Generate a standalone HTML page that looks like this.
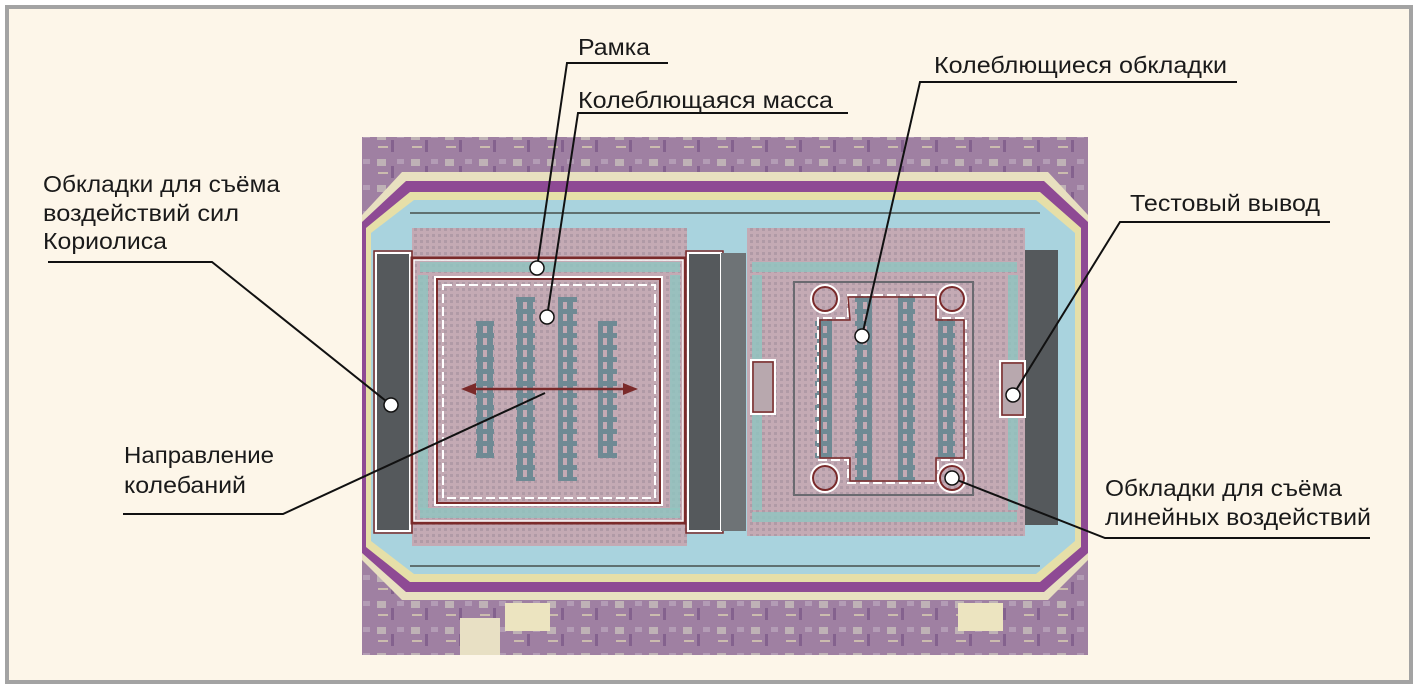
<!DOCTYPE html>
<html><head><meta charset="utf-8"><style>
html,body{margin:0;padding:0;background:#fff}
svg{display:block}
text{font-family:"Liberation Sans",sans-serif;font-size:23px;fill:#1a1a1a}
</style></head><body>
<svg width="1418" height="689" viewBox="0 0 1418 689" xmlns="http://www.w3.org/2000/svg">
<defs>
<pattern id="grid" width="6" height="6" patternUnits="userSpaceOnUse">
<rect width="6" height="6" fill="#c4aab4"/><rect x="0" y="0" width="3" height="3" fill="#b09aa6"/>
</pattern>
<pattern id="circ" width="34" height="26" patternUnits="userSpaceOnUse">
<rect width="34" height="26" fill="#9f80a2"/><rect x="3" y="3" width="9" height="7" fill="#bfb2b6"/><rect x="17" y="10" width="3" height="12" fill="#84628e"/><rect x="23" y="3" width="7" height="5" fill="#b39cb5"/><rect x="4" y="16" width="10" height="2" fill="#cbbcae"/>
</pattern>
<pattern id="comb" width="10" height="12" patternUnits="userSpaceOnUse">
<rect width="10" height="12" fill="#6f8a94"/><rect x="3" y="2" width="4" height="7" fill="#c4aab4"/>
</pattern>
</defs>
<rect x="0" y="0" width="1418" height="689" fill="#fff"/>
<rect x="7" y="7" width="1404" height="675" fill="#fdf6e9" stroke="#a3a3a3" stroke-width="4"/>
<g>
<rect x="362" y="137" width="726" height="518" fill="url(#circ)"/>
<polygon points="362,215 402,172 1048,172 1088,215 1088,560 1048,600 402,600 362,560" fill="#e8e0c0"/>
<polygon points="362,222 406,181 1044,181 1088,222 1088,553 1044,592 406,592 362,553" fill="#8e4a94"/>
<polygon points="366,228 410,192 1040,192 1081,228 1081,547 1040,582 410,582 366,547" fill="#e6dfa8"/>
<polygon points="371,233 414,200 1036,200 1075,233 1075,541 1036,574 414,574 371,541" fill="#a9d3de"/>
<line x1="410" y1="213" x2="1040" y2="213" stroke="#5f7070" stroke-width="2"/>
<line x1="410" y1="566" x2="1040" y2="566" stroke="#5f7070" stroke-width="2"/>
<rect x="412" y="228" width="275" height="318" fill="url(#grid)"/>
<rect x="747" y="228" width="278" height="308" fill="url(#grid)"/>
<g fill="#8fc6c0">
<rect x="420" y="262" width="260" height="10" opacity=".8"/><rect x="420" y="508" width="260" height="10" opacity=".8"/>
<rect x="418" y="275" width="10" height="235" opacity=".8"/><rect x="670" y="275" width="10" height="235" opacity=".8"/>
<rect x="752" y="262" width="265" height="10" opacity=".8"/><rect x="752" y="512" width="265" height="10" opacity=".8"/>
<rect x="752" y="275" width="10" height="235" opacity=".8"/><rect x="1008" y="275" width="10" height="235" opacity=".8"/>
</g>
<rect x="376" y="253" width="34" height="278" fill="#55595c" stroke="#fff" stroke-width="2"/>
<rect x="374" y="251" width="38" height="282" fill="none" stroke="#7a2a2a" stroke-width="1.5"/>
<rect x="688" y="253" width="33" height="278" fill="#55595c" stroke="#fff" stroke-width="2"/>
<rect x="686" y="251" width="37" height="282" fill="none" stroke="#7a2a2a" stroke-width="1.5"/>
<rect x="721" y="253" width="25" height="278" fill="#6e7376"/>
<rect x="1025" y="250" width="33" height="275" fill="#55595c"/>
<rect x="412" y="258" width="273" height="265" fill="none" stroke="#7a2a2a" stroke-width="3"/>
<rect x="414" y="260" width="269" height="261" fill="none" stroke="#fff" stroke-width="1.5"/>
<rect x="435" y="277" width="227" height="228" fill="none" stroke="#fff" stroke-width="2"/>
<rect x="437" y="279" width="223" height="224" fill="none" stroke="#7a2a2a" stroke-width="2"/>
<rect x="443" y="285" width="212" height="213" fill="none" stroke="#fff" stroke-width="2" stroke-dasharray="9,4"/>
<rect x="476" y="321" width="18" height="137" fill="url(#comb)"/>
<rect x="516" y="297" width="19" height="184" fill="url(#comb)"/>
<rect x="558" y="297" width="19" height="184" fill="url(#comb)"/>
<rect x="598" y="321" width="19" height="137" fill="url(#comb)"/>
<line x1="468" y1="389" x2="630" y2="389" stroke="#7a2a2a" stroke-width="2.5"/>
<polygon points="461,389 476,383 476,395" fill="#7a2a2a"/><polygon points="638,389 623,383 623,395" fill="#7a2a2a"/>
<rect x="794" y="282" width="179" height="213" fill="none" stroke="#6a6a70" stroke-width="2"/>
<rect x="815" y="319" width="17" height="139" fill="url(#comb)"/>
<rect x="855" y="296" width="17" height="185" fill="url(#comb)"/>
<rect x="898" y="296" width="17" height="185" fill="url(#comb)"/>
<rect x="938" y="319" width="17" height="139" fill="url(#comb)"/>
<path d="M848,295 H938 V318 H966 V460 H938 V483 H848 V460 H818 V318 H848 Z" fill="none" stroke="#fff" stroke-width="2" stroke-dasharray="9,4"/>
<path d="M848,297 H936 V320 H964 V458 H936 V481 H850 V458 H820 V320 H850 Z" fill="none" stroke="#7a2a2a" stroke-width="1.5"/>
<g fill="none" stroke-width="2">
<circle cx="825" cy="299" r="12" stroke="#7a2a2a"/><circle cx="825" cy="299" r="14" stroke="#fff"/>
<circle cx="952" cy="299" r="12" stroke="#7a2a2a"/><circle cx="952" cy="299" r="14" stroke="#fff"/>
<circle cx="825" cy="478" r="12" stroke="#7a2a2a"/><circle cx="825" cy="478" r="14" stroke="#fff"/>
<circle cx="952" cy="478" r="12" stroke="#7a2a2a"/><circle cx="952" cy="478" r="14" stroke="#fff"/>
</g>
<rect x="751" y="360" width="24" height="54" fill="#b8a8ae" stroke="#fff" stroke-width="2"/>
<rect x="753" y="362" width="20" height="50" fill="none" stroke="#7a2a2a" stroke-width="1.5"/>
<rect x="1000" y="361" width="25" height="56" fill="#b8a8ae" stroke="#fff" stroke-width="2"/>
<rect x="1002" y="363" width="21" height="52" fill="none" stroke="#7a2a2a" stroke-width="1.5"/>
<rect x="505" y="603" width="45" height="28" fill="#ece4c0"/><rect x="958" y="603" width="45" height="28" fill="#ece4c0"/>
<rect x="460" y="618" width="40" height="37" fill="#e8e0c4"/>
</g>
<g stroke="#111" stroke-width="2" fill="none">
<polyline points="668,63 567,63 537,268"/>
<polyline points="848,113 578,113 547,317"/>
<polyline points="1237,82 920,82 862,336"/>
<polyline points="48,262 212,262 391,405"/>
<polyline points="1330,222 1120,222 1013,395"/>
<polyline points="123,514 283,514 545,393"/>
<polyline points="1370,538 1105,538 952,478"/>
</g>
<g fill="#fff" stroke="#111" stroke-width="1.5">
<circle cx="537" cy="268" r="7"/><circle cx="547" cy="317" r="7"/><circle cx="862" cy="336" r="7"/>
<circle cx="391" cy="405" r="7"/><circle cx="1013" cy="395" r="7"/><circle cx="952" cy="478" r="7"/>
</g>
<text x="578" y="55" textLength="72" lengthAdjust="spacingAndGlyphs">Рамка</text>
<text x="578" y="108" textLength="255" lengthAdjust="spacingAndGlyphs">Колеблющаяся масса</text>
<text x="934" y="73" textLength="293" lengthAdjust="spacingAndGlyphs">Колеблющиеся обкладки</text>
<text x="43" y="192" textLength="237" lengthAdjust="spacingAndGlyphs">Обкладки для съёма</text>
<text x="43" y="221" textLength="196" lengthAdjust="spacingAndGlyphs">воздействий сил</text>
<text x="43" y="249" textLength="124" lengthAdjust="spacingAndGlyphs">Кориолиса</text>
<text x="1130" y="211" textLength="190" lengthAdjust="spacingAndGlyphs">Тестовый вывод</text>
<text x="124" y="463" textLength="150" lengthAdjust="spacingAndGlyphs">Направление</text>
<text x="124" y="493" textLength="122" lengthAdjust="spacingAndGlyphs">колебаний</text>
<text x="1105" y="496" textLength="237" lengthAdjust="spacingAndGlyphs">Обкладки для съёма</text>
<text x="1105" y="525" textLength="266" lengthAdjust="spacingAndGlyphs">линейных воздействий</text>
</svg>
</body></html>
